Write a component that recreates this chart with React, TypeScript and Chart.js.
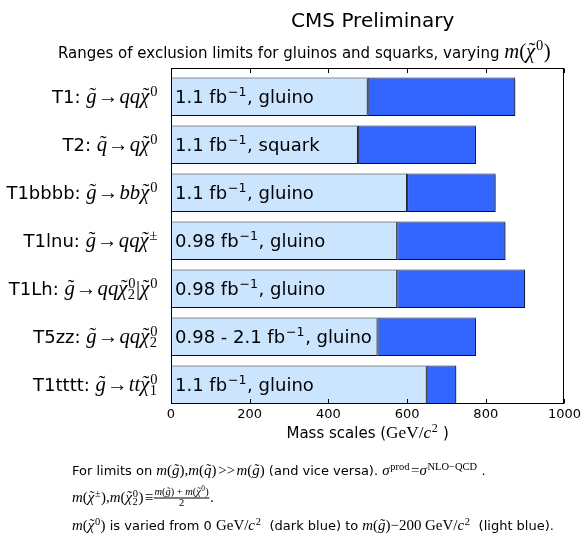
import { useEffect, useRef } from 'react';
import { Chart, registerables } from 'chart.js';

Chart.register(...registerables);

// ---------- data ----------
const categories = ['T1', 'T2', 'T1bbbb', 'T1lnu', 'T1Lh', 'T5zz', 'T1tttt'];
const lightBlueLimits = [500, 475, 600, 575, 575, 525, 650];
const darkBlueLimits = [875, 775, 825, 850, 900, 775, 725];
const luminosities = ['1.1', '1.1', '1.1', '0.98', '0.98', '0.98 - 2.1', '1.1'];
const particles = ['gluino', 'squark', 'gluino', 'gluino', 'gluino', 'gluino', 'gluino'];
const xTickValues = [0, 200, 400, 600, 800, 1000];

// ---------- rich text ----------
type F = 'sans' | 'it' | 'rm';
interface Seg {
  t?: string;
  f?: F;
  tilde?: boolean;
  sup?: string;
  sub?: string;
  sf?: F;
  num?: Seg[];
  den?: Seg[];
  sp?: number;
  z?: number;
}

const sans = (t: string, o: Partial<Seg> = {}): Seg => ({ t, f: 'sans', ...o });
const it = (t: string, o: Partial<Seg> = {}): Seg => ({ t, f: 'it', ...o });
const rm = (t: string, o: Partial<Seg> = {}): Seg => ({ t, f: 'rm', ...o });
const sp = (em: number): Seg => ({ sp: em });
const gT = (): Seg => it('g', { tilde: true });
const qT = (): Seg => it('q', { tilde: true });
const chi = (sup?: string, sub?: string): Seg => it('χ', { tilde: true, sup, sub });
const arrow = (): Seg[] => [sp(0.06), rm('→'), sp(0.06)];

const SERIF_SCALE = 1.15;
function font(f: F, size: number) {
  if (f === 'sans') return `${size}px "DejaVu Sans"`;
  const s = (size * SERIF_SCALE).toFixed(2);
  if (f === 'it') return `italic ${s}px "Liberation Serif"`;
  return `${s}px "Liberation Serif"`;
}

function run(ctx: CanvasRenderingContext2D, segs: Seg[], x: number, y: number, size0: number, draw: boolean): number {
  let cx = x;
  for (const s of segs) {
    const size = size0 * (s.z || 1);
    if (s.sp) {
      cx += s.sp * size;
      continue;
    }
    if (s.num && s.den) {
      const fs = size * 0.7;
      const wn = run(ctx, s.num, 0, 0, fs, false);
      const wd = run(ctx, s.den, 0, 0, fs, false);
      const w = Math.max(wn, wd) + size * 0.2;
      if (draw) {
        const ly = y - size * 0.32;
        run(ctx, s.num, cx + (w - wn) / 2, ly - size * 0.2, fs, true);
        run(ctx, s.den, cx + (w - wd) / 2, ly + size * 0.65, fs, true);
        ctx.fillRect(cx + size * 0.05, Math.round(ly) - 0.5, w - size * 0.1, 1);
      }
      cx += w;
      continue;
    }
    const f = s.f || 'sans';
    let w = 0;
    if (s.t) {
      ctx.font = font(f, size);
      w = ctx.measureText(s.t).width;
      if (draw) {
        ctx.fillText(s.t, cx, y);
        if (s.tilde) {
          ctx.font = font('rm', size);
          const tw = ctx.measureText('\u02dc').width;
          ctx.fillText('\u02dc', cx + w / 2 - tw / 2 + size * 0.07, y - size * 0.05);
        }
      }
    }
    cx += w;
    if (s.sup || s.sub) {
      const fs = size * 0.7;
      const sfnt: F = s.sf || (f === 'it' ? 'rm' : f);
      ctx.font = font(sfnt, fs);
      const ws = s.sup ? ctx.measureText(s.sup).width : 0;
      const wb = s.sub ? ctx.measureText(s.sub).width : 0;
      if (draw) {
        if (s.sup) ctx.fillText(s.sup, cx + size * 0.05, y - size * 0.42);
        if (s.sub) ctx.fillText(s.sub, cx + size * 0.02, y + size * 0.2);
      }
      cx += Math.max(ws, wb) + size * 0.08;
    }
  }
  return cx - x;
}

function drawRich(ctx: CanvasRenderingContext2D, segs: Seg[], x: number, y: number, size: number, align: 'left' | 'right' | 'center') {
  ctx.textAlign = 'left';
  ctx.textBaseline = 'alphabetic';
  const w = run(ctx, segs, 0, 0, size, false);
  const sx = align === 'right' ? x - w : align === 'center' ? x - w / 2 : x;
  run(ctx, segs, sx, y, size, true);
}

// ---------- labels ----------
const decays: Seg[][] = [
  [gT(), ...arrow(), it('qq'), chi('0')],
  [qT(), ...arrow(), it('q'), chi('0')],
  [gT(), ...arrow(), it('bb'), chi('0')],
  [gT(), ...arrow(), it('qq'), chi('±')],
  [gT(), ...arrow(), it('qq'), chi('0', '2'), rm('|'), chi('0')],
  [gT(), ...arrow(), it('qq'), chi('0', '2')],
  [gT(), ...arrow(), it('tt'), chi('0', '1')],
];

const categoryLabel = (i: number): Seg[] => [sans(categories[i] + ': '), ...decays[i]];
const barLabel = (i: number): Seg[] => [
  sans(luminosities[i] + ' fb'),
  sans('', { sup: '−1' }),
  sans(', ' + particles[i]),
];

const titleText = 'CMS Preliminary';
const subtitle: Seg[] = [
  sans('Ranges of exclusion limits for gluinos and squarks, varying '),
  it('m', { z: 1.2 }), rm('(', { z: 1.2 }), it('χ', { tilde: true, sup: '0', z: 1.2 }), rm(')', { z: 1.2 }),
];
const xAxisTitle: Seg[] = [sans('Mass scales ('), rm('GeV/'), it('c', { sup: '2', sf: 'rm' }), sans(' )')];

const footnotes: Seg[][] = [
  [
    sans('For limits on '),
    it('m'), rm('('), gT(), rm(')'), rm(','), it('m'), rm('('), qT(), rm(')'),
    sp(0.15), rm('>>'), sp(0.1),
    it('m'), rm('('), gT(), rm(')'),
    sans(' (and vice versa). '),
    it('σ', { sup: 'prod', sf: 'rm' }), sp(0.1), rm('='), it('σ', { sup: 'NLO−QCD', sf: 'rm' }),
    sans(' .'),
  ],
  [
    it('m'), rm('('), chi('±'), rm(')'), rm(','), it('m'), rm('('), chi('0', '2'), rm(')'),
    sp(0.1), rm('≡'),
    {
      num: [it('m'), rm('('), gT(), rm(')'), rm(' + '), it('m'), rm('('), chi('0'), rm(')')],
      den: [rm('2')],
    },
    rm('.'),
  ],
  [
    it('m'), rm('('), chi('0'), rm(')'),
    sans(' is varied from 0 '), rm('GeV/'), it('c', { sup: '2', sf: 'rm' }),
    sans('  (dark blue) to '),
    it('m'), rm('('), gT(), rm(')'), rm('−200 GeV/'), it('c', { sup: '2', sf: 'rm' }),
    sans('  (light blue).'),
  ],
];

// ---------- plugins ----------
const shadowPlugin = {
  id: 'barShadow',
  beforeDatasetsDraw(chart: any) {
    const ctx = chart.ctx;
    ctx.save();
    ctx.shadowColor = 'rgba(0,0,0,0.45)';
    ctx.shadowOffsetX = 1.5;
    ctx.shadowOffsetY = 1.5;
    ctx.shadowBlur = 0;
  },
  afterDatasetsDraw(chart: any) {
    chart.ctx.restore();
  },
};

const decorPlugin = {
  id: 'decor',
  afterDraw(chart: any) {
    const ctx: CanvasRenderingContext2D = chart.ctx;
    const { left, right, top, bottom } = chart.chartArea;
    const xs = chart.scales.x;
    const ys = chart.scales.y;
    ctx.save();
    ctx.fillStyle = '#000';
    ctx.strokeStyle = '#000';
    ctx.lineWidth = 1;
    const L = Math.round(left) + 0.5;
    const R = Math.round(right) - 0.5;
    const T = Math.round(top) + 0.5;
    const B = Math.round(bottom) - 0.5;
    ctx.strokeRect(L, T, R - L, B - T);
    ctx.beginPath();
    for (const v of xTickValues) {
      const px = Math.round(xs.getPixelForValue(v)) + 0.5;
      ctx.moveTo(px, T);
      ctx.lineTo(px, T + 4.5);
      ctx.moveTo(px, B);
      ctx.lineTo(px, B - 4.5);
    }
    ctx.stroke();

    categories.forEach((_, i) => {
      const py = ys.getPixelForValue(i);
      drawRich(ctx, categoryLabel(i), left - 13, py + 6.5, 18, 'right');
      drawRich(ctx, barLabel(i), left + 4, py + 6.5, 18, 'left');
    });

    ctx.font = '20px "DejaVu Sans"';
    ctx.textAlign = 'center';
    ctx.fillText(titleText, (left + right) / 2 + 5, 27);
    drawRich(ctx, subtitle, 58, 58, 15, 'left');
    drawRich(ctx, xAxisTitle, (left + right) / 2, 438, 15, 'center');
    const fy = [475, 502, 530];
    footnotes.forEach((f, i) => drawRich(ctx, f, 72, fy[i], 13, 'left'));
    ctx.restore();
  },
};

export default function App() {
  const ref = useRef<HTMLCanvasElement>(null);
  useEffect(() => {
    const canvas = ref.current;
    if (!canvas) return;
    const edge = '#1a1a1a';
    const common = {
      borderColor: edge,
      borderWidth: 1,
      borderSkipped: false,
      grouped: false,
      barPercentage: 0.8,
      categoryPercentage: 1,
    };
    const chart = new Chart(canvas, {
      type: 'bar',
      data: {
        datasets: [
          {
            label: 'light blue',
            data: categories.map((_, i) => ({ y: i, x: [0, lightBlueLimits[i]] })) as any,
            backgroundColor: '#cce5ff',
            ...common,
          },
          {
            label: 'dark blue',
            data: categories.map((_, i) => ({ y: i, x: [lightBlueLimits[i], darkBlueLimits[i]] })) as any,
            backgroundColor: '#3366ff',
            ...common,
          },
        ],
      },
      options: {
        indexAxis: 'y',
        responsive: false,
        animation: false,
        layout: { padding: { left: 171, right: 18.5, top: 68, bottom: 115 } },
        scales: {
          x: {
            type: 'linear',
            min: 0,
            max: 1000,
            offset: false,
            ticks: {
              stepSize: 200,
              font: { family: 'DejaVu Sans', size: 13 },
              color: '#000',
              padding: 3,
              callback: (v: any) => String(v),
            },
            grid: { display: false, drawTicks: false, offset: false },
            border: { display: false },
            afterFit: (s: any) => {
              s.height = 24;
            },
          },
          y: {
            type: 'linear',
            min: -0.6,
            max: 6.4,
            reverse: true,
            display: false,
            offset: false,
            grid: { offset: false },
            afterBuildTicks: (s: any) => {
              s.ticks = categories.map((_, i) => ({ value: i }));
            },
          },
        },
        plugins: { legend: { display: false }, tooltip: { enabled: false } },
      },
      plugins: [shadowPlugin, decorPlugin],
    } as any);
    return () => chart.destroy();
  }, []);
  return (
    <div style={{ position: 'fixed', left: 0, top: 0, width: 584, height: 543, background: '#fff' }}>
      <canvas ref={ref} width={584} height={543} style={{ width: 584, height: 543, display: 'block' }} />
    </div>
  );
}
